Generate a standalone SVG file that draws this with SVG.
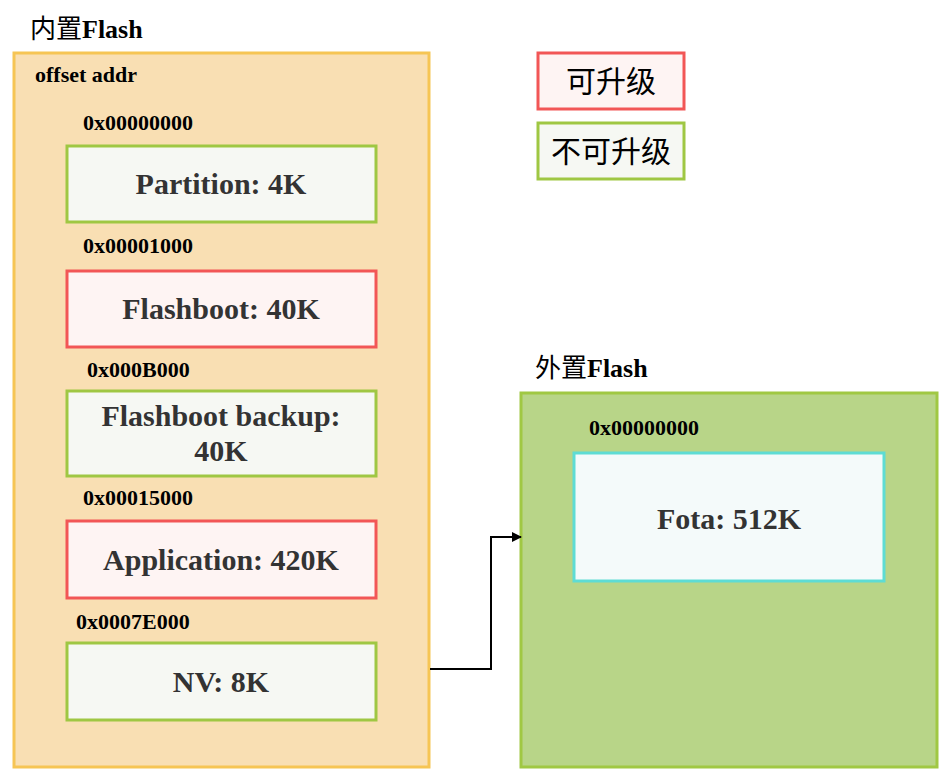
<svg xmlns="http://www.w3.org/2000/svg" width="949" height="775" viewBox="0 0 949 775">
<style>
.title{font-family:"Liberation Serif","Noto Sans CJK SC",serif;font-weight:bold;font-size:26px;fill:#000}
.cjk{font-family:"Noto Sans CJK SC",serif;font-weight:normal}
.addr{font-family:"Liberation Serif",serif;font-weight:bold;font-size:22px;fill:#000}
.lbl{font-family:"Liberation Serif",serif;font-weight:bold;font-size:30px;fill:#333;text-anchor:middle}
.leg{font-family:"Noto Sans CJK SC",serif;font-size:30px;fill:#000;text-anchor:middle}
.green{fill:#F6F8F3;stroke:#9FC743;stroke-width:3}
.red{fill:#FEF4F3;stroke:#F25656;stroke-width:3}
</style>
<defs>
<marker id="arr" markerWidth="10" markerHeight="10" refX="9" refY="5" orient="auto" markerUnits="userSpaceOnUse">
<path d="M0,0 L10,5 L0,10 Z" fill="#000"/>
</marker>
</defs>
<rect width="949" height="775" fill="#fff"/>
<g id="internal-flash">
<text class="title" x="30" y="38"><tspan class="cjk">内置</tspan>Flash</text>
<rect x="14" y="53" width="415" height="714" fill="#F9DFB3" stroke="#F6C554" stroke-width="3"/>
<text class="addr" x="35" y="82">offset addr</text>
</g>
<g id="partition">
<text class="addr" x="83" y="130">0x00000000</text>
<rect class="green" x="67" y="146" width="309" height="76"/>
<text class="lbl" x="221" y="194">Partition: 4K</text>
</g>
<g id="flashboot">
<text class="addr" x="83" y="253">0x00001000</text>
<rect class="red" x="67" y="271" width="309" height="76"/>
<text class="lbl" x="221" y="319">Flashboot: 40K</text>
</g>
<g id="flashboot-backup">
<text class="addr" x="87" y="377">0x000B000</text>
<rect class="green" x="67" y="391" width="309" height="85"/>
<text class="lbl" x="221" y="426">Flashboot backup:</text>
<text class="lbl" x="221" y="461">40K</text>
</g>
<g id="application">
<text class="addr" x="83" y="505">0x00015000</text>
<rect class="red" x="67" y="521" width="309" height="77"/>
<text class="lbl" x="221" y="570">Application: 420K</text>
</g>
<g id="nv">
<text class="addr" x="76" y="629">0x0007E000</text>
<rect class="green" x="67" y="643" width="309" height="77"/>
<text class="lbl" x="221" y="692">NV: 8K</text>
</g>
<g id="external-flash">
<text class="title" x="535" y="377"><tspan class="cjk">外置</tspan>Flash</text>
<rect x="521" y="393" width="416" height="374" fill="#B8D588" stroke="#A0C843" stroke-width="3"/>
</g>
<g id="fota">
<text class="addr" x="589" y="435">0x00000000</text>
<rect x="574" y="453" width="310" height="128" fill="#F4FAFA" stroke="#5EDCD4" stroke-width="3"/>
<text class="lbl" x="729" y="529">Fota: 512K</text>
</g>
<g id="legend-upgradable">
<rect class="red" x="538" y="53" width="146" height="56"/>
<text class="leg" x="611" y="92">可升级</text>
</g>
<g id="legend-not-upgradable">
<rect class="green" x="538" y="123" width="146" height="56"/>
<text class="leg" x="611" y="162">不可升级</text>
</g>
<g id="connectors">
<path d="M430,669 H491 V537 H521" fill="none" stroke="#000" stroke-width="2" marker-end="url(#arr)"/>
</g>
</svg>
